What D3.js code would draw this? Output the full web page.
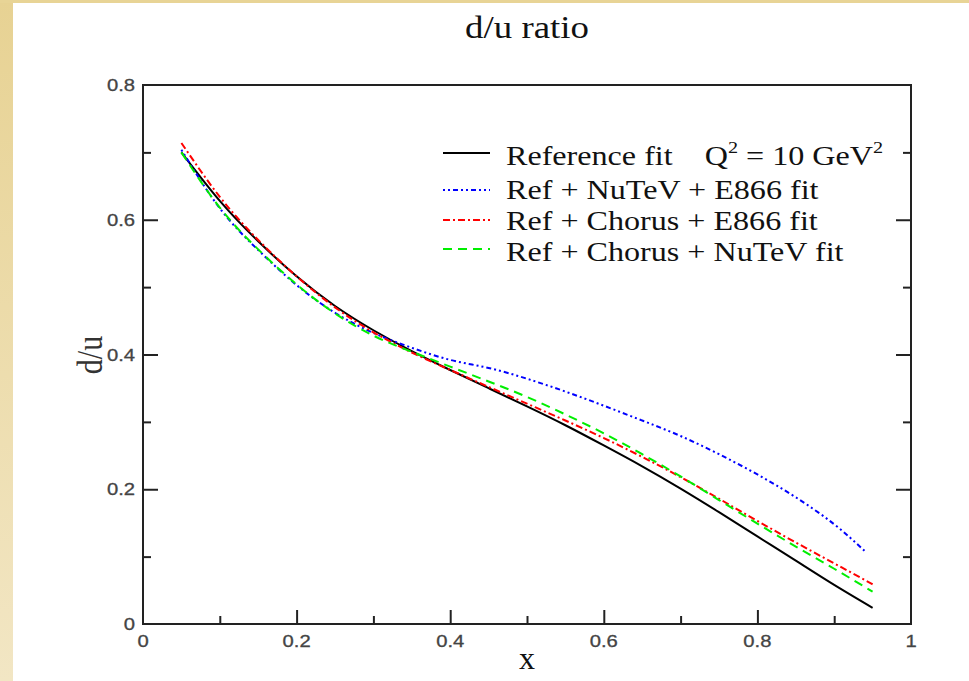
<!DOCTYPE html>
<html>
<head>
<meta charset="utf-8">
<script src="https://cdn.jsdelivr.net/npm/d3@7"></script>
<style>
  html, body { margin: 0; padding: 0; background: #fff; }
  svg { display: block; }
</style>
</head>
<body>
<svg id="chart" width="969" height="681"></svg>
<script>
// Sample points in x shared by the fits
const xs = [0.05, 0.10, 0.15, 0.20, 0.25, 0.30, 0.35, 0.40, 0.45, 0.50,
            0.55, 0.60, 0.65, 0.70, 0.75, 0.80, 0.85, 0.90, 0.95];
const xsBlue = [0.05, 0.10, 0.15, 0.20, 0.25, 0.30, 0.35, 0.40, 0.45, 0.50,
                0.55, 0.60, 0.65, 0.70, 0.75, 0.80, 0.85, 0.90, 0.94];

// d/u ratio at Q^2 = 10 GeV^2 for each fit
const refFit = [0.700, 0.628, 0.568, 0.516, 0.472, 0.436, 0.405, 0.377, 0.350, 0.323,
                0.295, 0.265, 0.234, 0.201, 0.166, 0.130, 0.094, 0.058, 0.024];
const nutevE866 = [0.704, 0.617, 0.555, 0.503, 0.462, 0.432, 0.410, 0.392, 0.380, 0.364,
                   0.345, 0.324, 0.302, 0.279, 0.252, 0.222, 0.188, 0.148, 0.108];
const chorusE866 = [0.714, 0.634, 0.570, 0.516, 0.470, 0.433, 0.403, 0.377, 0.352, 0.327,
                    0.302, 0.276, 0.248, 0.218, 0.186, 0.153, 0.121, 0.090, 0.059];
const chorusNutev = [0.700, 0.618, 0.556, 0.504, 0.461, 0.428, 0.404, 0.382, 0.360, 0.337,
                     0.311, 0.283, 0.252, 0.219, 0.184, 0.149, 0.115, 0.082, 0.048];

const xMajor = [0, 0.2, 0.4, 0.6, 0.8, 1];
const xMinor = [0.1, 0.3, 0.5, 0.7, 0.9];
const yMajor = [0, 0.2, 0.4, 0.6, 0.8];
const yMinor = [0.1, 0.3, 0.5, 0.7];
const xTickLabels = ["0", "0.2", "0.4", "0.6", "0.8", "1"];
const yTickLabels = ["0", "0.2", "0.4", "0.6", "0.8"];

const seriesNames = ["Reference fit", "Ref + NuTeV + E866 fit",
                     "Ref + Chorus + E866 fit", "Ref + Chorus + NuTeV fit"];
const seriesColors = ["#000000", "#0000ff", "#ff0000", "#00ee00"];
const seriesDash = [null, "2,3,2,3,5,3", "7,3,2,3", "9,6"];

const series = [
  { x: xs, y: refFit },
  { x: xsBlue, y: nutevE866 },
  { x: xs, y: chorusE866 },
  { x: xs, y: chorusNutev }
];

const W = 969, H = 681;
const svg = d3.select("#chart");
const SX = 1.19;          // horizontal text stretch
const serif = "'Liberation Serif', 'Times New Roman', serif";
const sans = "'Liberation Sans', Arial, sans-serif";

// page frame
const defs = svg.append("defs");
const grad = defs.append("linearGradient").attr("id", "frameGrad")
  .attr("x1", 0).attr("y1", 0).attr("x2", 0).attr("y2", 1);
grad.append("stop").attr("offset", "0%").attr("stop-color", "#e7d293");
grad.append("stop").attr("offset", "100%").attr("stop-color", "#f2e6c4");
svg.append("rect").attr("x", 0).attr("y", 0).attr("width", 13).attr("height", H)
  .attr("fill", "url(#frameGrad)");
svg.append("rect").attr("x", 0).attr("y", 0).attr("width", W).attr("height", 3)
  .attr("fill", "#e8d496");

const plot = { left: 143, right: 911, top: 85, bottom: 624 };
const x = d3.scaleLinear().domain([0, 1]).range([plot.left, plot.right]);
const y = d3.scaleLinear().domain([0, 0.8]).range([plot.bottom, plot.top]);

const axisColor = "#222";

function styleAxis(g) {
  g.select(".domain").remove();
  g.selectAll(".tick line").attr("stroke", axisColor).attr("stroke-width", 2);
}

// bottom ticks (inside)
svg.append("g").attr("transform", `translate(0,${plot.bottom})`)
  .call(d3.axisBottom(x).tickValues(xMajor.slice(1, -1)).tickSize(-14).tickFormat(""))
  .call(styleAxis);
svg.append("g").attr("transform", `translate(0,${plot.bottom})`)
  .call(d3.axisBottom(x).tickValues(xMinor).tickSize(-8).tickFormat(""))
  .call(styleAxis);
// left ticks
svg.append("g").attr("transform", `translate(${plot.left},0)`)
  .call(d3.axisLeft(y).tickValues(yMajor.slice(1, -1)).tickSize(-15).tickFormat(""))
  .call(styleAxis);
svg.append("g").attr("transform", `translate(${plot.left},0)`)
  .call(d3.axisLeft(y).tickValues(yMinor).tickSize(-8).tickFormat(""))
  .call(styleAxis);
// right ticks
svg.append("g").attr("transform", `translate(${plot.right},0)`)
  .call(d3.axisRight(y).tickValues(yMajor.slice(1, -1)).tickSize(-15).tickFormat(""))
  .call(styleAxis);
svg.append("g").attr("transform", `translate(${plot.right},0)`)
  .call(d3.axisRight(y).tickValues(yMinor).tickSize(-8).tickFormat(""))
  .call(styleAxis);

// frame
svg.append("rect")
  .attr("x", plot.left).attr("y", plot.top)
  .attr("width", plot.right - plot.left).attr("height", plot.bottom - plot.top)
  .attr("fill", "none").attr("stroke", axisColor).attr("stroke-width", 2);

// tick labels
svg.append("g").selectAll("text").data(xMajor).join("text")
  .attr("transform", d => `translate(${x(d)},647) scale(${SX},1)`)
  .attr("text-anchor", "middle")
  .attr("font-family", sans).attr("font-size", 17).attr("fill", "#444")
  .attr("stroke", "#444").attr("stroke-width", 0.3)
  .text((d, i) => xTickLabels[i]);
svg.append("g").selectAll("text").data(yMajor).join("text")
  .attr("transform", d => `translate(135,${y(d) + 6}) scale(${SX},1)`)
  .attr("text-anchor", "end")
  .attr("font-family", sans).attr("font-size", 17).attr("fill", "#444")
  .attr("stroke", "#444").attr("stroke-width", 0.3)
  .text((d, i) => yTickLabels[i]);

// title and axis titles
svg.append("text")
  .attr("transform", `translate(${(plot.left + plot.right) / 2},38) scale(${SX},1)`)
  .attr("text-anchor", "middle").attr("font-family", serif).attr("font-size", 31)
  .attr("fill", "#111").text("d/u ratio");
svg.append("text")
  .attr("transform", `translate(527,669)`)
  .attr("text-anchor", "middle").attr("font-family", serif).attr("font-size", 32)
  .attr("fill", "#111").text("x");
svg.append("text")
  .attr("transform", `translate(102,355) scale(${SX},1) rotate(-90)`)
  .attr("text-anchor", "middle").attr("font-family", serif).attr("font-size", 30)
  .attr("fill", "#333").text("d/u");

// curves
const line = d3.line().curve(d3.curveNatural);
svg.append("g").selectAll("path").data(series).join("path")
  .attr("d", s => line(s.x.map((v, i) => [x(v), y(s.y[i])])))
  .attr("fill", "none")
  .attr("stroke", (s, i) => seriesColors[i])
  .attr("stroke-width", 2)
  .attr("stroke-dasharray", (s, i) => seriesDash[i]);

// legend
const legendLineY = [153, 190, 220, 249];
const legendTextY = [165, 199, 230, 261];
const lg = svg.append("g");
seriesNames.forEach((name, i) => {
  lg.append("line")
    .attr("x1", 443).attr("x2", 490)
    .attr("y1", legendLineY[i]).attr("y2", legendLineY[i])
    .attr("stroke", seriesColors[i]).attr("stroke-width", 2)
    .attr("stroke-dasharray", seriesDash[i]);
  const t = lg.append("text")
    .attr("transform", `translate(506,${legendTextY[i]}) scale(${SX},1)`)
    .attr("font-family", serif).attr("font-size", 27).attr("fill", "#111");
  t.append("tspan").text(name);
  if (i === 0) {
    t.append("tspan").attr("x", 167).text("Q");
    t.append("tspan").attr("dy", -12).attr("font-size", 17).text("2");
    t.append("tspan").attr("dy", 12).text(" = 10 GeV");
    t.append("tspan").attr("dy", -12).attr("font-size", 17).text("2");
  }
});
</script>
</body>
</html>
